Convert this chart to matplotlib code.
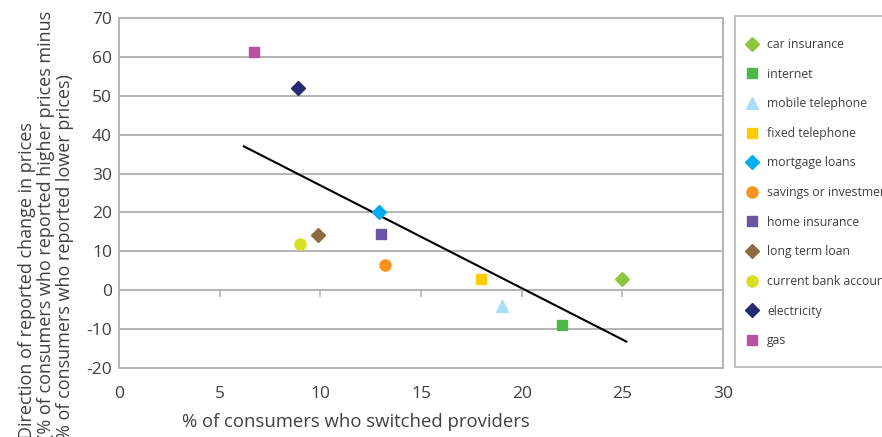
import matplotlib
matplotlib.use("Agg")
import matplotlib.pyplot as plt
from matplotlib.patches import Rectangle

plt.rcParams['font.family'] = ['Open Sans', 'DejaVu Sans']
plt.rcParams['axes.unicode_minus'] = False

# ---- data ----
categories = ["car insurance", "internet", "mobile telephone", "fixed telephone",
              "mortgage loans", "savings or investments", "home insurance",
              "long term loan", "current bank account", "electricity", "gas"]
switched = [25.0, 22.0, 19.0, 18.0, 12.9, 13.2, 13.0, 9.9, 9.0, 8.9, 6.7]
price_change = [3.0, -9.0, -4.0, 3.0, 20.0, 6.6, 14.4, 14.2, 12.0, 52.0, 61.2]
markers = ["D", "s", "^", "s", "D", "o", "s", "D", "o", "D", "s"]
colors = ["#8dc63f", "#4db848", "#a8def7", "#ffcc00", "#00aeef", "#f7941d",
          "#6a55a3", "#8c6c3e", "#d8e021", "#262a6e", "#b8519f"]
trend_x = [6.2, 25.2]
trend_y = [37.0, -13.2]
xticks = [0, 5, 10, 15, 20, 25, 30]
yticks = [-20, -10, 0, 10, 20, 30, 40, 50, 60, 70]

W, H = 882, 437
fig = plt.figure(figsize=(W / 100, H / 100), dpi=100)
ax = fig.add_axes([119 / W, 1 - 368 / H, (723 - 119) / W, (368 - 18) / H])

grid_c = "#b4b4b4"
text_c = "#404040"

for xv, yv, m, c, lab in zip(switched, price_change, markers, colors, categories):
    ms = 7.6 if m == "D" else (8.0 if m in ("o", "^") else 7.5)
    ax.plot([xv], [yv], linestyle="none", marker=m, markersize=ms,
            color=c, markeredgecolor=c, label=lab, zorder=3)

ax.plot(trend_x, trend_y, color="black", linewidth=1.5, zorder=2)

ax.set_xlim(0, 30)
ax.set_ylim(-20, 70)
ax.set_xticks(xticks)
ax.set_yticks(yticks)
ax.grid(axis="y", color=grid_c, linewidth=1.4)
ax.set_axisbelow(True)
for s in ax.spines.values():
    s.set_color(grid_c)
    s.set_linewidth(1.4)
ax.tick_params(axis="x", length=0, pad=13, labelsize=12.5, labelcolor=text_c)
ax.tick_params(axis="y", length=0, pad=5, labelsize=12.5, labelcolor=text_c)

# horizontal axis line at y = 0 with tick marks
sec = ax.secondary_xaxis(20 / 90)
sec.set_xticks(xticks)
sec.set_xticklabels([])
sec.tick_params(axis="x", direction="out", length=5, width=1.2, color=grid_c)
sec.spines["bottom"].set_color(grid_c)
sec.spines["bottom"].set_linewidth(1.4)

fig.text(356 / W, 1 - 427 / H, "% of consumers who switched providers",
         ha="center", va="baseline", fontsize=13.3, color=text_c)
fig.text(46 / W, -0.004,
         "Direction of reported change in prices\n"
         "(% of consumers who reported higher prices minus\n"
         "% of consumers who reported lower prices)",
         rotation=90, ha="center", va="bottom", multialignment="left",
         fontsize=13, color=text_c, linespacing=1.05)

# legend box
fig.patches.append(Rectangle((735 / W, 1 - 367 / H), (W + 20 - 735) / W, (367 - 16) / H,
                             transform=fig.transFigure, facecolor="white",
                             edgecolor=grid_c, linewidth=1.2, zorder=0))
leg = fig.legend(loc="upper left", bbox_to_anchor=(745 / W, 1 - 38 / H),
                 frameon=False, fontsize=8.8, labelspacing=1.36,
                 borderpad=0, handletextpad=0.6, handlelength=1.2,
                 borderaxespad=0, numpoints=1, labelcolor=text_c)

fig.savefig("out.png", dpi=100)
